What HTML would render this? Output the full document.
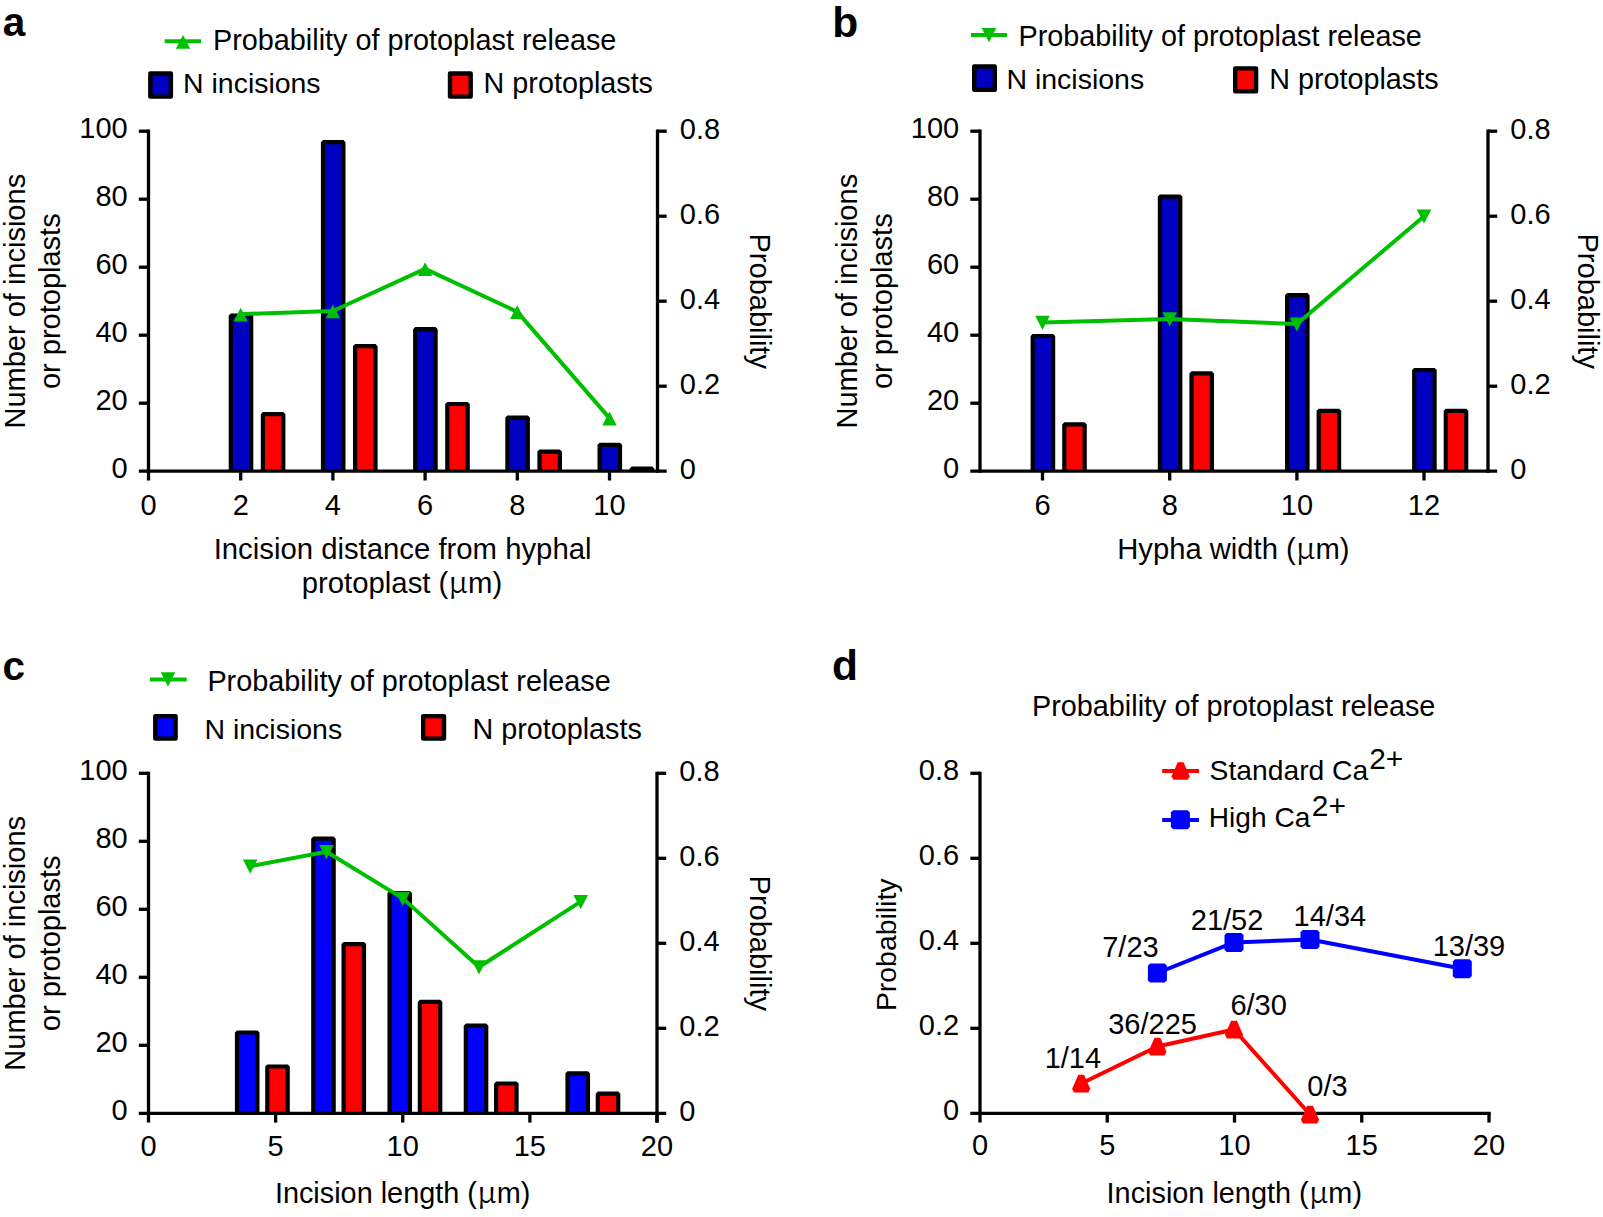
<!DOCTYPE html>
<html lang="en"><head><meta charset="utf-8"><title>Figure</title>
<style>html,body{margin:0;padding:0;background:#fff}svg{display:block}</style></head><body>
<svg width="1603" height="1217" viewBox="0 0 1603 1217" font-family="'Liberation Sans',Arial,Helvetica,sans-serif" font-size="29.0" fill="#000">
<rect width="1603" height="1217" fill="#fff"/>
<path d="M230.80 471.20V315.60H251.20V471.20" fill="#0000C0" stroke="#000" stroke-width="4.2" stroke-linejoin="bevel"/>
<path d="M323.00 471.20V142.20H343.40V471.20" fill="#0000C0" stroke="#000" stroke-width="4.2" stroke-linejoin="bevel"/>
<path d="M415.20 471.20V329.20H435.60V471.20" fill="#0000C0" stroke="#000" stroke-width="4.2" stroke-linejoin="bevel"/>
<path d="M507.40 471.20V417.60H527.80V471.20" fill="#0000C0" stroke="#000" stroke-width="4.2" stroke-linejoin="bevel"/>
<path d="M599.60 471.20V444.80H620.00V471.20" fill="#0000C0" stroke="#000" stroke-width="4.2" stroke-linejoin="bevel"/>
<path d="M262.90 471.20V414.20H283.30V471.20" fill="#FF0000" stroke="#000" stroke-width="4.2" stroke-linejoin="bevel"/>
<path d="M355.10 471.20V346.20H375.50V471.20" fill="#FF0000" stroke="#000" stroke-width="4.2" stroke-linejoin="bevel"/>
<path d="M447.30 471.20V404.00H467.70V471.20" fill="#FF0000" stroke="#000" stroke-width="4.2" stroke-linejoin="bevel"/>
<path d="M539.50 471.20V451.60H559.90V471.20" fill="#FF0000" stroke="#000" stroke-width="4.2" stroke-linejoin="bevel"/>
<path d="M631.70 471.20V468.60H652.10V471.20" fill="#FF0000" stroke="#000" stroke-width="4.2" stroke-linejoin="bevel"/>
<line x1="148.50" y1="129.55" x2="148.50" y2="480.50" stroke="#000" stroke-width="3.3" stroke-linecap="butt"/>
<line x1="657.50" y1="129.55" x2="657.50" y2="472.85" stroke="#000" stroke-width="3.3" stroke-linecap="butt"/>
<line x1="138.80" y1="471.20" x2="666.70" y2="471.20" stroke="#000" stroke-width="3.3" stroke-linecap="butt"/>
<line x1="138.80" y1="403.20" x2="148.50" y2="403.20" stroke="#000" stroke-width="3.3" stroke-linecap="butt"/>
<text x="127.70" y="410.00" text-anchor="end">20</text>
<line x1="138.80" y1="335.20" x2="148.50" y2="335.20" stroke="#000" stroke-width="3.3" stroke-linecap="butt"/>
<text x="127.70" y="342.00" text-anchor="end">40</text>
<line x1="138.80" y1="267.20" x2="148.50" y2="267.20" stroke="#000" stroke-width="3.3" stroke-linecap="butt"/>
<text x="127.70" y="274.00" text-anchor="end">60</text>
<line x1="138.80" y1="199.20" x2="148.50" y2="199.20" stroke="#000" stroke-width="3.3" stroke-linecap="butt"/>
<text x="127.70" y="206.00" text-anchor="end">80</text>
<line x1="138.80" y1="131.20" x2="148.50" y2="131.20" stroke="#000" stroke-width="3.3" stroke-linecap="butt"/>
<text x="127.70" y="138.00" text-anchor="end">100</text>
<text x="127.70" y="478.00" text-anchor="end">0</text>
<line x1="657.50" y1="386.20" x2="666.70" y2="386.20" stroke="#000" stroke-width="3.3" stroke-linecap="butt"/>
<text x="679.80" y="393.50">0.2</text>
<line x1="657.50" y1="301.20" x2="666.70" y2="301.20" stroke="#000" stroke-width="3.3" stroke-linecap="butt"/>
<text x="679.80" y="308.50">0.4</text>
<line x1="657.50" y1="216.20" x2="666.70" y2="216.20" stroke="#000" stroke-width="3.3" stroke-linecap="butt"/>
<text x="679.80" y="223.50">0.6</text>
<line x1="657.50" y1="131.20" x2="666.70" y2="131.20" stroke="#000" stroke-width="3.3" stroke-linecap="butt"/>
<text x="679.80" y="138.50">0.8</text>
<text x="679.80" y="478.50">0</text>
<text x="148.50" y="515.00" text-anchor="middle">0</text>
<line x1="240.70" y1="471.20" x2="240.70" y2="480.50" stroke="#000" stroke-width="3.3" stroke-linecap="butt"/>
<text x="240.70" y="515.00" text-anchor="middle">2</text>
<line x1="332.90" y1="471.20" x2="332.90" y2="480.50" stroke="#000" stroke-width="3.3" stroke-linecap="butt"/>
<text x="332.90" y="515.00" text-anchor="middle">4</text>
<line x1="425.10" y1="471.20" x2="425.10" y2="480.50" stroke="#000" stroke-width="3.3" stroke-linecap="butt"/>
<text x="425.10" y="515.00" text-anchor="middle">6</text>
<line x1="517.30" y1="471.20" x2="517.30" y2="480.50" stroke="#000" stroke-width="3.3" stroke-linecap="butt"/>
<text x="517.30" y="515.00" text-anchor="middle">8</text>
<line x1="609.50" y1="471.20" x2="609.50" y2="480.50" stroke="#000" stroke-width="3.3" stroke-linecap="butt"/>
<text x="609.50" y="515.00" text-anchor="middle">10</text>
<polyline points="240.70,314.13 332.90,310.98 425.10,268.82 517.30,311.82 609.50,418.07" fill="none" stroke="#00BF00" stroke-width="4.0" stroke-linejoin="round"/>
<path d="M240.70 307.63L247.90 321.43H233.50Z" fill="#00BF00"/>
<path d="M332.90 304.48L340.10 318.28H325.70Z" fill="#00BF00"/>
<path d="M425.10 262.32L432.30 276.12H417.90Z" fill="#00BF00"/>
<path d="M517.30 305.32L524.50 319.12H510.10Z" fill="#00BF00"/>
<path d="M609.50 411.57L616.70 425.38H602.30Z" fill="#00BF00"/>
<text transform="translate(25.00 301.20) rotate(-90)" text-anchor="middle">Number of incisions</text>
<text transform="translate(60.00 301.20) rotate(-90)" text-anchor="middle">or protoplasts</text>
<text transform="translate(749.80 301.20) rotate(90)" text-anchor="middle">Probability</text>
<text x="402.60" y="559.20" text-anchor="middle" font-size="29.3">Incision distance from hyphal</text>
<text x="402.00" y="593.30" text-anchor="middle" font-size="29.3">protoplast (<tspan font-family="'Noto Serif CJK SC','Liberation Serif',serif" font-size="31.5">μ</tspan>m)</text>
<text x="2.80" y="36.30" font-size="40.5" font-weight="bold">a</text>
<line x1="164.70" y1="41.20" x2="201.00" y2="41.20" stroke="#00BF00" stroke-width="4.0" stroke-linecap="butt"/>
<path d="M183.00 35.00L190.20 48.80H175.80Z" fill="#00BF00"/>
<text x="213.00" y="49.80" font-size="28.8">Probability of protoplast release</text>
<rect x="150.30" y="73.50" width="20.60" height="23.10" fill="#0000C0" stroke="#000" stroke-width="4.4" stroke-linejoin="round"/>
<text x="183.10" y="92.90" font-size="28.45">N incisions</text>
<rect x="450.00" y="73.50" width="20.70" height="23.10" fill="#FF0000" stroke="#000" stroke-width="4.4" stroke-linejoin="round"/>
<text x="653.00" y="93.30" text-anchor="end" font-size="28.75">N protoplasts</text>
<path d="M1032.70 471.20V336.00H1053.10V471.20" fill="#0000C0" stroke="#000" stroke-width="4.2" stroke-linejoin="bevel"/>
<path d="M1159.90 471.20V196.60H1180.30V471.20" fill="#0000C0" stroke="#000" stroke-width="4.2" stroke-linejoin="bevel"/>
<path d="M1287.10 471.20V295.20H1307.50V471.20" fill="#0000C0" stroke="#000" stroke-width="4.2" stroke-linejoin="bevel"/>
<path d="M1414.20 471.20V370.00H1434.60V471.20" fill="#0000C0" stroke="#000" stroke-width="4.2" stroke-linejoin="bevel"/>
<path d="M1064.30 471.20V424.40H1084.70V471.20" fill="#FF0000" stroke="#000" stroke-width="4.2" stroke-linejoin="bevel"/>
<path d="M1191.50 471.20V373.40H1211.90V471.20" fill="#FF0000" stroke="#000" stroke-width="4.2" stroke-linejoin="bevel"/>
<path d="M1318.70 471.20V410.80H1339.10V471.20" fill="#FF0000" stroke="#000" stroke-width="4.2" stroke-linejoin="bevel"/>
<path d="M1445.80 471.20V410.80H1466.20V471.20" fill="#FF0000" stroke="#000" stroke-width="4.2" stroke-linejoin="bevel"/>
<line x1="980.00" y1="129.55" x2="980.00" y2="472.85" stroke="#000" stroke-width="3.3" stroke-linecap="butt"/>
<line x1="1488.00" y1="129.55" x2="1488.00" y2="472.85" stroke="#000" stroke-width="3.3" stroke-linecap="butt"/>
<line x1="970.30" y1="471.20" x2="1497.20" y2="471.20" stroke="#000" stroke-width="3.3" stroke-linecap="butt"/>
<line x1="970.30" y1="403.20" x2="980.00" y2="403.20" stroke="#000" stroke-width="3.3" stroke-linecap="butt"/>
<text x="959.20" y="410.00" text-anchor="end">20</text>
<line x1="970.30" y1="335.20" x2="980.00" y2="335.20" stroke="#000" stroke-width="3.3" stroke-linecap="butt"/>
<text x="959.20" y="342.00" text-anchor="end">40</text>
<line x1="970.30" y1="267.20" x2="980.00" y2="267.20" stroke="#000" stroke-width="3.3" stroke-linecap="butt"/>
<text x="959.20" y="274.00" text-anchor="end">60</text>
<line x1="970.30" y1="199.20" x2="980.00" y2="199.20" stroke="#000" stroke-width="3.3" stroke-linecap="butt"/>
<text x="959.20" y="206.00" text-anchor="end">80</text>
<line x1="970.30" y1="131.20" x2="980.00" y2="131.20" stroke="#000" stroke-width="3.3" stroke-linecap="butt"/>
<text x="959.20" y="138.00" text-anchor="end">100</text>
<text x="959.20" y="478.00" text-anchor="end">0</text>
<line x1="1488.00" y1="386.20" x2="1497.20" y2="386.20" stroke="#000" stroke-width="3.3" stroke-linecap="butt"/>
<text x="1510.30" y="393.50">0.2</text>
<line x1="1488.00" y1="301.20" x2="1497.20" y2="301.20" stroke="#000" stroke-width="3.3" stroke-linecap="butt"/>
<text x="1510.30" y="308.50">0.4</text>
<line x1="1488.00" y1="216.20" x2="1497.20" y2="216.20" stroke="#000" stroke-width="3.3" stroke-linecap="butt"/>
<text x="1510.30" y="223.50">0.6</text>
<line x1="1488.00" y1="131.20" x2="1497.20" y2="131.20" stroke="#000" stroke-width="3.3" stroke-linecap="butt"/>
<text x="1510.30" y="138.50">0.8</text>
<text x="1510.30" y="478.50">0</text>
<line x1="1042.50" y1="471.20" x2="1042.50" y2="480.50" stroke="#000" stroke-width="3.3" stroke-linecap="butt"/>
<text x="1042.50" y="515.00" text-anchor="middle">6</text>
<line x1="1169.70" y1="471.20" x2="1169.70" y2="480.50" stroke="#000" stroke-width="3.3" stroke-linecap="butt"/>
<text x="1169.70" y="515.00" text-anchor="middle">8</text>
<line x1="1296.90" y1="471.20" x2="1296.90" y2="480.50" stroke="#000" stroke-width="3.3" stroke-linecap="butt"/>
<text x="1296.90" y="515.00" text-anchor="middle">10</text>
<line x1="1424.00" y1="471.20" x2="1424.00" y2="480.50" stroke="#000" stroke-width="3.3" stroke-linecap="butt"/>
<text x="1424.00" y="515.00" text-anchor="middle">12</text>
<polyline points="1042.50,322.45 1169.70,319.04 1296.90,324.08 1424.00,216.20" fill="none" stroke="#00BF00" stroke-width="4.0" stroke-linejoin="round"/>
<path d="M1042.50 329.95L1049.80 315.75H1035.20Z" fill="#00BF00"/>
<path d="M1169.70 326.54L1177.00 312.34H1162.40Z" fill="#00BF00"/>
<path d="M1296.90 331.58L1304.20 317.38H1289.60Z" fill="#00BF00"/>
<path d="M1424.00 223.70L1431.30 209.50H1416.70Z" fill="#00BF00"/>
<text transform="translate(856.50 301.20) rotate(-90)" text-anchor="middle">Number of incisions</text>
<text transform="translate(891.50 301.20) rotate(-90)" text-anchor="middle">or protoplasts</text>
<text transform="translate(1578.00 301.20) rotate(90)" text-anchor="middle">Probability</text>
<text x="1233.40" y="559.20" text-anchor="middle" font-size="29.2">Hypha width (<tspan font-family="'Noto Serif CJK SC','Liberation Serif',serif" font-size="31.5">μ</tspan>m)</text>
<text x="832.20" y="36.60" font-size="42.5" font-weight="bold">b</text>
<line x1="971.00" y1="35.10" x2="1007.00" y2="35.10" stroke="#00BF00" stroke-width="4.0" stroke-linecap="butt"/>
<path d="M989.00 42.30L996.30 28.10H981.70Z" fill="#00BF00"/>
<text x="1018.50" y="46.40" font-size="28.8">Probability of protoplast release</text>
<rect x="974.20" y="66.50" width="20.60" height="23.30" fill="#0000C0" stroke="#000" stroke-width="4.4" stroke-linejoin="round"/>
<text x="1006.40" y="88.80" font-size="28.5">N incisions</text>
<rect x="1235.20" y="68.40" width="20.90" height="22.90" fill="#FF0000" stroke="#000" stroke-width="4.4" stroke-linejoin="round"/>
<text x="1438.60" y="89.20" text-anchor="end" font-size="28.75">N protoplasts</text>
<path d="M237.00 1113.30V1032.50H257.40V1113.30" fill="#0000FF" stroke="#000" stroke-width="4.2" stroke-linejoin="bevel"/>
<path d="M313.28 1113.30V838.70H333.68V1113.30" fill="#0000FF" stroke="#000" stroke-width="4.2" stroke-linejoin="bevel"/>
<path d="M389.55 1113.30V893.10H409.95V1113.30" fill="#0000FF" stroke="#000" stroke-width="4.2" stroke-linejoin="bevel"/>
<path d="M465.83 1113.30V1025.70H486.23V1113.30" fill="#0000FF" stroke="#000" stroke-width="4.2" stroke-linejoin="bevel"/>
<path d="M567.52 1113.30V1073.30H587.93V1113.30" fill="#0000FF" stroke="#000" stroke-width="4.2" stroke-linejoin="bevel"/>
<path d="M267.30 1113.30V1066.50H287.70V1113.30" fill="#FF0000" stroke="#000" stroke-width="4.2" stroke-linejoin="bevel"/>
<path d="M343.58 1113.30V944.10H363.98V1113.30" fill="#FF0000" stroke="#000" stroke-width="4.2" stroke-linejoin="bevel"/>
<path d="M419.85 1113.30V1001.90H440.25V1113.30" fill="#FF0000" stroke="#000" stroke-width="4.2" stroke-linejoin="bevel"/>
<path d="M496.13 1113.30V1083.50H516.53V1113.30" fill="#FF0000" stroke="#000" stroke-width="4.2" stroke-linejoin="bevel"/>
<path d="M597.82 1113.30V1093.70H618.23V1113.30" fill="#FF0000" stroke="#000" stroke-width="4.2" stroke-linejoin="bevel"/>
<line x1="148.50" y1="771.65" x2="148.50" y2="1122.60" stroke="#000" stroke-width="3.3" stroke-linecap="butt"/>
<line x1="657.00" y1="771.65" x2="657.00" y2="1114.95" stroke="#000" stroke-width="3.3" stroke-linecap="butt"/>
<line x1="138.80" y1="1113.30" x2="666.20" y2="1113.30" stroke="#000" stroke-width="3.3" stroke-linecap="butt"/>
<line x1="138.80" y1="1045.30" x2="148.50" y2="1045.30" stroke="#000" stroke-width="3.3" stroke-linecap="butt"/>
<text x="127.70" y="1052.10" text-anchor="end">20</text>
<line x1="138.80" y1="977.30" x2="148.50" y2="977.30" stroke="#000" stroke-width="3.3" stroke-linecap="butt"/>
<text x="127.70" y="984.10" text-anchor="end">40</text>
<line x1="138.80" y1="909.30" x2="148.50" y2="909.30" stroke="#000" stroke-width="3.3" stroke-linecap="butt"/>
<text x="127.70" y="916.10" text-anchor="end">60</text>
<line x1="138.80" y1="841.30" x2="148.50" y2="841.30" stroke="#000" stroke-width="3.3" stroke-linecap="butt"/>
<text x="127.70" y="848.10" text-anchor="end">80</text>
<line x1="138.80" y1="773.30" x2="148.50" y2="773.30" stroke="#000" stroke-width="3.3" stroke-linecap="butt"/>
<text x="127.70" y="780.10" text-anchor="end">100</text>
<text x="127.70" y="1120.10" text-anchor="end">0</text>
<line x1="657.00" y1="1028.30" x2="666.20" y2="1028.30" stroke="#000" stroke-width="3.3" stroke-linecap="butt"/>
<text x="679.30" y="1035.60">0.2</text>
<line x1="657.00" y1="943.30" x2="666.20" y2="943.30" stroke="#000" stroke-width="3.3" stroke-linecap="butt"/>
<text x="679.30" y="950.60">0.4</text>
<line x1="657.00" y1="858.30" x2="666.20" y2="858.30" stroke="#000" stroke-width="3.3" stroke-linecap="butt"/>
<text x="679.30" y="865.60">0.6</text>
<line x1="657.00" y1="773.30" x2="666.20" y2="773.30" stroke="#000" stroke-width="3.3" stroke-linecap="butt"/>
<text x="679.30" y="780.60">0.8</text>
<text x="679.30" y="1120.60">0</text>
<text x="148.50" y="1155.50" text-anchor="middle">0</text>
<line x1="275.62" y1="1113.30" x2="275.62" y2="1122.60" stroke="#000" stroke-width="3.3" stroke-linecap="butt"/>
<text x="275.62" y="1155.50" text-anchor="middle">5</text>
<line x1="402.75" y1="1113.30" x2="402.75" y2="1122.60" stroke="#000" stroke-width="3.3" stroke-linecap="butt"/>
<text x="402.75" y="1155.50" text-anchor="middle">10</text>
<line x1="529.88" y1="1113.30" x2="529.88" y2="1122.60" stroke="#000" stroke-width="3.3" stroke-linecap="butt"/>
<text x="529.88" y="1155.50" text-anchor="middle">15</text>
<line x1="657.00" y1="1113.30" x2="657.00" y2="1122.60" stroke="#000" stroke-width="3.3" stroke-linecap="butt"/>
<text x="657.00" y="1155.50" text-anchor="middle">20</text>
<polyline points="250.20,866.23 326.48,851.80 402.75,898.38 479.03,967.03 580.73,901.65" fill="none" stroke="#00BF00" stroke-width="4.0" stroke-linejoin="round"/>
<path d="M250.20 873.73L257.50 859.53H242.90Z" fill="#00BF00"/>
<path d="M326.48 859.30L333.78 845.10H319.18Z" fill="#00BF00"/>
<path d="M402.75 905.88L410.05 891.68H395.45Z" fill="#00BF00"/>
<path d="M479.03 974.53L486.33 960.33H471.73Z" fill="#00BF00"/>
<path d="M580.73 909.15L588.03 894.95H573.42Z" fill="#00BF00"/>
<text transform="translate(25.00 943.30) rotate(-90)" text-anchor="middle">Number of incisions</text>
<text transform="translate(60.00 943.30) rotate(-90)" text-anchor="middle">or protoplasts</text>
<text transform="translate(750.00 943.30) rotate(90)" text-anchor="middle">Probability</text>
<line x1="657.00" y1="1113.30" x2="657.00" y2="1122.60" stroke="#000" stroke-width="3.3" stroke-linecap="butt"/>
<text x="402.60" y="1202.80" text-anchor="middle" font-size="28.85">Incision length (<tspan font-family="'Noto Serif CJK SC','Liberation Serif',serif" font-size="31.5">μ</tspan>m)</text>
<text x="2.50" y="679.60" font-size="40.5" font-weight="bold">c</text>
<line x1="150.00" y1="679.40" x2="186.70" y2="679.40" stroke="#00BF00" stroke-width="4.0" stroke-linecap="butt"/>
<path d="M168.00 686.50L175.30 672.30H160.70Z" fill="#00BF00"/>
<text x="207.40" y="691.10" font-size="28.8">Probability of protoplast release</text>
<rect x="155.30" y="716.10" width="20.30" height="22.50" fill="#0000FF" stroke="#000" stroke-width="4.4" stroke-linejoin="round"/>
<text x="204.40" y="738.70" font-size="28.5">N incisions</text>
<rect x="423.20" y="716.10" width="20.80" height="22.50" fill="#FF0000" stroke="#000" stroke-width="4.4" stroke-linejoin="round"/>
<text x="641.80" y="738.80" text-anchor="end" font-size="28.75">N protoplasts</text>
<line x1="980.00" y1="771.65" x2="980.00" y2="1122.60" stroke="#000" stroke-width="3.3" stroke-linecap="butt"/>
<line x1="970.30" y1="1113.30" x2="1490.70" y2="1113.30" stroke="#000" stroke-width="3.3" stroke-linecap="butt"/>
<line x1="970.30" y1="1028.30" x2="980.00" y2="1028.30" stroke="#000" stroke-width="3.3" stroke-linecap="butt"/>
<text x="959.20" y="1035.30" text-anchor="end">0.2</text>
<line x1="970.30" y1="943.30" x2="980.00" y2="943.30" stroke="#000" stroke-width="3.3" stroke-linecap="butt"/>
<text x="959.20" y="950.30" text-anchor="end">0.4</text>
<line x1="970.30" y1="858.30" x2="980.00" y2="858.30" stroke="#000" stroke-width="3.3" stroke-linecap="butt"/>
<text x="959.20" y="865.30" text-anchor="end">0.6</text>
<line x1="970.30" y1="773.30" x2="980.00" y2="773.30" stroke="#000" stroke-width="3.3" stroke-linecap="butt"/>
<text x="959.20" y="780.30" text-anchor="end">0.8</text>
<text x="959.20" y="1120.30" text-anchor="end">0</text>
<text x="980.00" y="1155.30" text-anchor="middle">0</text>
<line x1="1107.25" y1="1113.30" x2="1107.25" y2="1122.60" stroke="#000" stroke-width="3.3" stroke-linecap="butt"/>
<text x="1107.25" y="1155.30" text-anchor="middle">5</text>
<line x1="1234.50" y1="1113.30" x2="1234.50" y2="1122.60" stroke="#000" stroke-width="3.3" stroke-linecap="butt"/>
<text x="1234.50" y="1155.30" text-anchor="middle">10</text>
<line x1="1361.75" y1="1113.30" x2="1361.75" y2="1122.60" stroke="#000" stroke-width="3.3" stroke-linecap="butt"/>
<text x="1361.75" y="1155.30" text-anchor="middle">15</text>
<line x1="1489.00" y1="1113.30" x2="1489.00" y2="1122.60" stroke="#000" stroke-width="3.3" stroke-linecap="butt"/>
<text x="1489.00" y="1155.30" text-anchor="middle">20</text>
<text transform="translate(895.50 944.80) rotate(-90)" text-anchor="middle" font-size="28.4">Probability</text>
<text x="1234.30" y="1202.80" text-anchor="middle" font-size="28.85">Incision length (<tspan font-family="'Noto Serif CJK SC','Liberation Serif',serif" font-size="31.5">μ</tspan>m)</text>
<text x="832.00" y="680.30" font-size="42.5" font-weight="bold">d</text>
<text x="1032.00" y="716.00" font-size="28.8">Probability of protoplast release</text>
<polyline points="1081.20,1083.50 1157.40,1046.50 1234.00,1029.50 1310.00,1114.50" fill="none" stroke="#FF0000" stroke-width="4.0" stroke-linejoin="round"/>
<polyline points="1157.40,973.00 1234.00,942.40 1310.00,939.50 1462.30,968.70" fill="none" stroke="#0000FF" stroke-width="4.0" stroke-linejoin="round"/>
<polygon points="1078.30,1074.70 1084.10,1074.70 1090.25,1088.70 1088.40,1092.40 1074.00,1092.40 1072.15,1088.70" fill="#FF0000"/>
<polygon points="1154.50,1037.70 1160.30,1037.70 1166.45,1051.70 1164.60,1055.40 1150.20,1055.40 1148.35,1051.70" fill="#FF0000"/>
<polygon points="1231.10,1020.70 1236.90,1020.70 1243.05,1034.70 1241.20,1038.40 1226.80,1038.40 1224.95,1034.70" fill="#FF0000"/>
<polygon points="1307.10,1105.70 1312.90,1105.70 1319.05,1119.70 1317.20,1123.40 1302.80,1123.40 1300.95,1119.70" fill="#FF0000"/>
<polygon points="1150.10,963.50 1164.70,963.50 1166.90,965.70 1166.90,980.30 1164.70,982.50 1150.10,982.50 1147.90,980.30 1147.90,965.70" fill="#0000FF"/>
<polygon points="1226.70,932.90 1241.30,932.90 1243.50,935.10 1243.50,949.70 1241.30,951.90 1226.70,951.90 1224.50,949.70 1224.50,935.10" fill="#0000FF"/>
<polygon points="1302.70,930.00 1317.30,930.00 1319.50,932.20 1319.50,946.80 1317.30,949.00 1302.70,949.00 1300.50,946.80 1300.50,932.20" fill="#0000FF"/>
<polygon points="1455.00,959.20 1469.60,959.20 1471.80,961.40 1471.80,976.00 1469.60,978.20 1455.00,978.20 1452.80,976.00 1452.80,961.40" fill="#0000FF"/>
<line x1="1162.20" y1="770.90" x2="1199.00" y2="770.90" stroke="#FF0000" stroke-width="4.0" stroke-linecap="butt"/>
<polygon points="1177.70,762.15 1183.50,762.15 1189.65,776.15 1187.80,779.85 1173.40,779.85 1171.55,776.15" fill="#FF0000"/>
<line x1="1162.20" y1="819.90" x2="1199.00" y2="819.90" stroke="#0000FF" stroke-width="4.0" stroke-linecap="butt"/>
<polygon points="1173.10,810.20 1187.70,810.20 1189.90,812.40 1189.90,827.00 1187.70,829.20 1173.10,829.20 1170.90,827.00 1170.90,812.40" fill="#0000FF"/>
<text x="1209.60" y="779.80" font-size="28.25">Standard Ca<tspan x="1369.2" dy="-11.3" font-size="29.9">2+</tspan></text>
<text x="1208.80" y="827.40" font-size="28.1">High Ca<tspan x="1311.8" dy="-11.7" font-size="29.9">2+</tspan></text>
<text x="1044.68" y="1067.50">1/14</text>
<text x="1108.24" y="1034.00">36/225</text>
<text x="1230.44" y="1015.40">6/30</text>
<text x="1307.34" y="1095.80">0/3</text>
<text x="1102.24" y="956.80">7/23</text>
<text x="1190.75" y="930.20">21/52</text>
<text x="1293.58" y="926.00">14/34</text>
<text x="1432.68" y="956.00">13/39</text>
</svg></body></html>
